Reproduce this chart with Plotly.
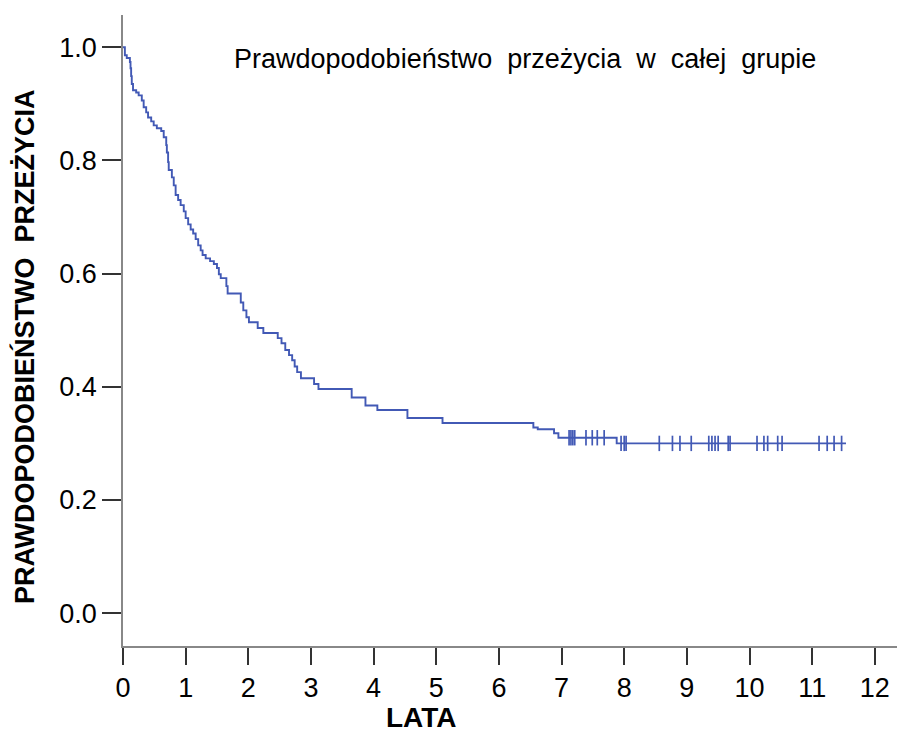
import numpy as np
import plotly.graph_objects as go

# Kaplan-Meier step points (time in years, survival probability)
step_times = [0, 0.03, 0.06, 0.11, 0.12, 0.13, 0.14, 0.16, 0.21, 0.25, 0.30, 0.33, 0.37, 0.40,
              0.45, 0.49, 0.54, 0.61, 0.65, 0.69, 0.70, 0.72, 0.73, 0.78, 0.81, 0.84, 0.88,
              0.92, 0.97, 1.00, 1.04, 1.08, 1.12, 1.16, 1.20, 1.24, 1.27, 1.32, 1.39, 1.45,
              1.50, 1.53, 1.56, 1.65, 1.67, 1.88, 1.92, 1.97, 2.01, 2.15, 2.24, 2.47, 2.53,
              2.59, 2.65, 2.70, 2.74, 2.78, 2.84, 3.05, 3.12, 3.65, 3.87, 4.06, 4.54, 5.10,
              6.55, 6.62, 6.88, 6.95, 7.88, 11.54]
step_surv = [1.000, 0.986, 0.981, 0.974, 0.963, 0.949, 0.935, 0.924, 0.920, 0.915, 0.906, 0.894,
             0.885, 0.876, 0.869, 0.862, 0.857, 0.852, 0.841, 0.827, 0.814, 0.797, 0.783, 0.770,
             0.756, 0.739, 0.730, 0.721, 0.710, 0.698, 0.687, 0.678, 0.671, 0.661, 0.650, 0.641,
             0.633, 0.627, 0.622, 0.617, 0.610, 0.599, 0.592, 0.578, 0.565, 0.549, 0.535, 0.523,
             0.514, 0.504, 0.495, 0.486, 0.477, 0.465, 0.456, 0.447, 0.436, 0.426, 0.415, 0.405,
             0.396, 0.381, 0.367, 0.359, 0.345, 0.336, 0.328, 0.325, 0.318, 0.310, 0.300, 0.300]

# censored observations (years)
censor_times = [7.12, 7.15, 7.18, 7.21, 7.39, 7.49, 7.57, 7.68,
                7.95, 8.00, 8.03, 8.56, 8.77, 8.89, 9.07, 9.35, 9.40, 9.45, 9.50, 9.66, 9.69,
                10.12, 10.23, 10.29, 10.45, 10.52, 11.11, 11.24, 11.35, 11.47]

x_ticks = list(range(0, 13))
y_ticks = [0.0, 0.2, 0.4, 0.6, 0.8, 1.0]

title_text = "Prawdopodobieństwo  przeżycia  w  całej  grupie"
x_title = "LATA"
y_title = "PRAWDOPODOBIEŃSTWO  PRZEŻYCIA"

# survival at censor times from step function
st = np.array(step_times)
ss = np.array(step_surv)
censor_surv = [float(ss[np.searchsorted(st, t, side="right") - 1]) for t in censor_times]

line_color = "#4259b5"

fig = go.Figure()
fig.add_trace(go.Scatter(x=step_times, y=step_surv, mode="lines",
                         line=dict(shape="hv", color=line_color, width=1.9),
                         showlegend=False, hoverinfo="skip"))
fig.add_trace(go.Scatter(x=censor_times, y=censor_surv, mode="markers",
                         marker=dict(symbol="line-ns-open", size=11, color=line_color,
                                     line=dict(color=line_color, width=1.7)),
                         showlegend=False))

font_family = "Liberation Sans, Arial, sans-serif"

fig.add_annotation(x=6.41, y=0.98, xref="x", yref="y", text=title_text,
                   showarrow=False, font=dict(family=font_family, size=27, color="black"))
fig.add_annotation(x=4.76, y=-0.114, xref="x", yref="paper", text="<b>" + x_title + "</b>",
                   showarrow=False, yanchor="middle",
                   font=dict(family=font_family, size=28, color="black"))
fig.add_annotation(x=-0.1256, y=0.474, xref="paper", yref="paper", text="<b>" + y_title + "</b>",
                   showarrow=False, textangle=-90, xanchor="center", yanchor="middle",
                   font=dict(family=font_family, size=27, color="black"))

fig.update_layout(
    width=905, height=737,
    margin=dict(l=115, r=10, t=7, b=99, autoexpand=False),
    plot_bgcolor="white", paper_bgcolor="white",
    font=dict(family=font_family, color="black"),
    xaxis=dict(range=[0, 12.45], tickvals=x_ticks, ticktext=[str(v) for v in x_ticks],
               ticks="outside", ticklen=17, tickwidth=1.5, tickcolor="#333333",
               showline=True, linecolor="#888888", linewidth=1.5, showgrid=False,
               zeroline=False, tickfont=dict(size=27, family=font_family), automargin=False),
    yaxis=dict(range=[-0.058, 1.057], tickvals=y_ticks, ticktext=[f"{v:.1f}" for v in y_ticks],
               ticks="outside", ticklen=19, tickwidth=1.5, tickcolor="#333333",
               showline=True, linecolor="#888888", linewidth=1.5, showgrid=False,
               zeroline=False, tickfont=dict(size=27, family=font_family), automargin=False),
)

fig.write_html("out.html")
